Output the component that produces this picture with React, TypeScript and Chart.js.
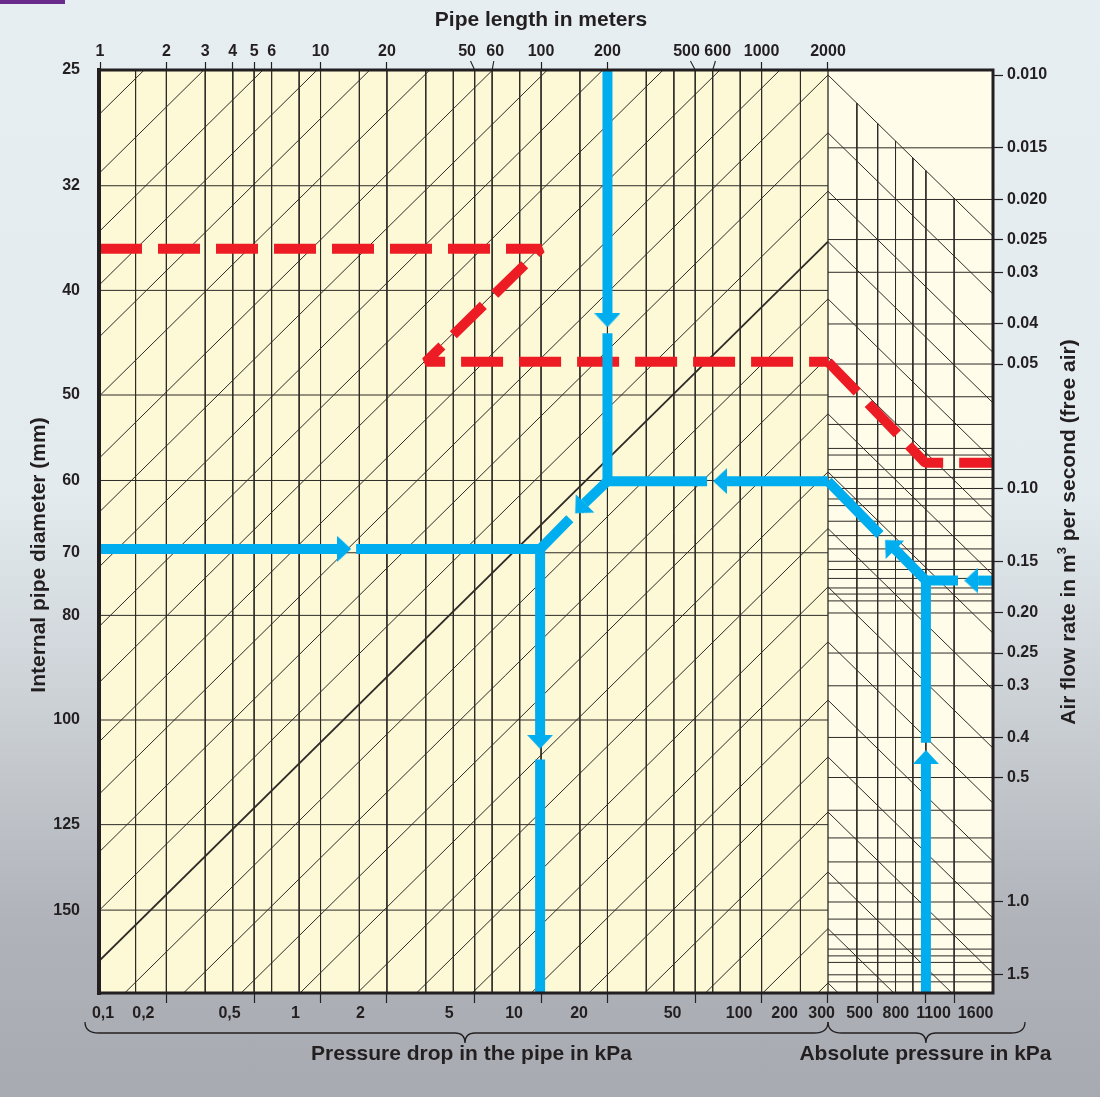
import { useEffect, useRef } from 'react';
import { Chart, registerables } from 'chart.js';

Chart.register(...registerables);

const FONT = '"Liberation Sans", Arial, Helvetica, sans-serif';
const TEXT = '#231f20';
const GRID = '#2e2b28';
const BLUE = '#00aeef';
const RED = '#ed1c24';

// ---- axis ranges (log scales) ----
const LENGTH_MIN = 1;
const LENGTH_MAX = 11200;
const DROP_MIN = 0.1;
const DROP_MAX = 1120;
const ABS_MIN = 0.0191;
const ABS_MAX = 2680;
const DIAM_MIN = 25;
const DIAM_MAX = 179;
const FLOW_MIN = 0.009725;
const FLOW_MAX = 1.66;
const LENGTH_EDGE = 2000; // right end of the pipe-length field
const ABS_EDGE = 300; // left end of the absolute-pressure field
const FLOW_EXP = 1.9; // left guide lines: L * Q^e = const
const ABS_EXP = 0.41; // right guide lines: Q / p^m = const

// ---- tick values and labels ----
const pipeLengthTicks = [1, 2, 3, 4, 5, 6, 10, 20, 50, 60, 100, 200, 500, 600, 1000, 2000];
const pipeLengthLeaderTicks = [50, 60, 500, 600];
const diameterTicks = [25, 32, 40, 50, 60, 70, 80, 100, 125, 150];
const flowTicks = [0.01, 0.015, 0.02, 0.025, 0.03, 0.04, 0.05, 0.1, 0.15, 0.2, 0.25, 0.3, 0.4, 0.5, 1.0, 1.5];
const flowTickLabels = ['0.010', '0.015', '0.020', '0.025', '0.03', '0.04', '0.05', '0.10', '0.15', '0.20', '0.25', '0.3', '0.4', '0.5', '1.0', '1.5'];
const pressureDropTickMarks = [0.2, 0.5, 1, 2, 5, 10, 20, 50, 100, 200];
const pressureDropLabels = [0.1, 0.2, 0.5, 1, 2, 5, 10, 20, 50, 100, 200, 300];
const pressureDropTexts = ['0,1', '0,2', '0,5', '1', '2', '5', '10', '20', '50', '100', '200', '300'];
const absPressureTickMarks = [580, 1100, 1600];
const absPressureLabels = [500, 800, 1100, 1600];

// ---- grid of the nomogram ----
const pipeLengthLines = [1.45, 2, 3, 4, 5, 6, 8, 10, 15, 20, 30, 40, 50, 60, 80, 100, 150, 200, 300, 400, 500, 600, 800, 1000, 1500, 2000];
const diameterLines = [32, 40, 50, 60, 70, 80, 100, 125, 150];
const flowLines = [0.015, 0.02, 0.025, 0.03, 0.04, 0.05, 0.06, 0.07, 0.08, 0.083, 0.09, 0.094, 0.1, 0.106, 0.11, 0.12, 0.13, 0.14, 0.15, 0.157, 0.165, 0.174, 0.18, 0.187, 0.2, 0.25, 0.3, 0.4, 0.5, 0.6, 0.7, 0.8, 0.9, 1.0, 1.1, 1.2, 1.3, 1.35, 1.4, 1.5, 1.56];
const absPressureLines = [440, 580, 735, 925, 1100, 1600];
// flow value where each slanted guide line meets the 2000 m / 300 kPa border
const guidePeakFlows = [0.000227, 0.000315, 0.000436, 0.000587, 0.000784, 0.00109, 0.00154, 0.00208, 0.00282, 0.00393, 0.00537, 0.00747, 0.01, 0.0138, 0.0191, 0.0253, 0.0348, 0.0481, 0.066, 0.0912, 0.125, 0.173, 0.235, 0.325, 0.446, 0.606, 0.846, 1.16, 1.57];
const heavyGuideFlow = 0.0253;

// ---- worked examples: [x value, flow] ----
const redLengthPart = [[1, 0.0263], [100, 0.0263], [30, 0.0494], [2000, 0.0494]];
const redPressurePart = [[300, 0.0494], [1090, 0.0866], [ABS_MAX, 0.0866]];

const blueLengthSegments = [
  [[200, FLOW_MIN], [200, 0.0378]],
  [[200, 0.0421], [200, 0.096], [566, 0.096]],
  [[697, 0.096], [2000, 0.096]],
  [[200, 0.096], [157.6, 0.1085]],
  [[135, 0.1183], [99, 0.14], [14.5, 0.14]],
  [[1, 0.14], [11.9, 0.14]],
];
const bluePressureSegments = [
  [[300, 0.096], [598, 0.1292]],
  [[730, 0.1403], [1100, 0.167], [1684, 0.167]],
  [[2199, 0.167], [ABS_MAX, 0.167]],
  [[1100, 0.167], [1100, 0.412]],
  [[1100, 0.464], [1100, FLOW_MAX]],
];
const blueDropSegments = [
  [[9.9, 0.14], [9.9, 0.395]],
  [[9.9, 0.452], [9.9, FLOW_MAX]],
];
// arrow heads: [x value, flow, direction in degrees (0 = up)]
const blueLengthArrows = [[200, 0.0392, 180], [648, 0.096, -90], [150.3, 0.1117, -135], [12.8, 0.14, 90]];
const bluePressureArrows = [[683, 0.1369, -45], [2010, 0.167, -90], [1100, 0.446, 0]];
const blueDropArrows = [[9.9, 0.41, 180]];

function leftGuide(q0: number) {
  const lenAt = (q: number) => LENGTH_EDGE * Math.pow(q0 / q, FLOW_EXP);
  const flowAt = (L: number) => q0 * Math.pow(LENGTH_EDGE / L, 1 / FLOW_EXP);
  const p1 = q0 >= FLOW_MIN ? [LENGTH_EDGE, q0] : [lenAt(FLOW_MIN), FLOW_MIN];
  const qLeft = flowAt(LENGTH_MIN);
  const p2 = qLeft <= FLOW_MAX ? [LENGTH_MIN, qLeft] : [lenAt(FLOW_MAX), FLOW_MAX];
  return [p1, p2];
}

function rightGuide(q0: number) {
  const pEnd = Math.min(ABS_MAX, ABS_EDGE * Math.pow(FLOW_MAX / q0, 1 / ABS_EXP));
  return [[ABS_EDGE, q0], [pEnd, q0 * Math.pow(pEnd / ABS_EDGE, ABS_EXP)]];
}

function lineSet(points: number[][], xAxisID: string, yAxisID: string, color: string, width: number, order: number, extra: any = {}) {
  return {
    data: points.map(([x, y]) => ({ x, y })),
    xAxisID,
    yAxisID,
    showLine: true,
    borderColor: color,
    borderWidth: width,
    pointRadius: 0,
    pointHoverRadius: 0,
    fill: false,
    tension: 0,
    borderCapStyle: 'butt',
    borderJoinStyle: 'miter',
    order,
    ...extra,
  };
}

function makeArrowHead() {
  const c = document.createElement('canvas');
  c.width = 26;
  c.height = 14;
  const g = c.getContext('2d')!;
  g.fillStyle = BLUE;
  g.beginPath();
  g.moveTo(13, 0);
  g.lineTo(26, 14);
  g.lineTo(0, 14);
  g.closePath();
  g.fill();
  return c;
}

function arrowSet(arrows: number[][], xAxisID: string, head: HTMLCanvasElement) {
  return arrows.map(([x, y, rot]) => ({
    data: [{ x, y }],
    xAxisID,
    yAxisID: 'yQ',
    showLine: false,
    pointStyle: head,
    pointRotation: rot,
    pointRadius: 8,
    pointHoverRadius: 8,
    order: 0,
  }));
}

function brace(ctx: CanvasRenderingContext2D, x1: number, x2: number, xc: number, yTop: number, yLine: number, yTip: number) {
  const r = 14;
  const rc = 10;
  ctx.beginPath();
  ctx.moveTo(x1, yTop);
  ctx.quadraticCurveTo(x1, yLine, x1 + r, yLine);
  ctx.lineTo(xc - rc, yLine);
  ctx.quadraticCurveTo(xc, yLine, xc, yTip);
  ctx.quadraticCurveTo(xc, yLine, xc + rc, yLine);
  ctx.lineTo(x2 - r, yLine);
  ctx.quadraticCurveTo(x2, yLine, x2, yTop);
  ctx.stroke();
}

const decorPlugin = {
  id: 'decor',
  beforeDraw(chart: any) {
    const { ctx, chartArea, scales } = chart;
    const { left, top, right, bottom } = chartArea;
    const xb = scales.xL.getPixelForValue(LENGTH_EDGE);
    ctx.save();
    ctx.fillStyle = '#fdf8d5';
    ctx.fillRect(left, top, xb - left, bottom - top);
    ctx.fillStyle = '#fffce9';
    ctx.fillRect(xb, top, right - xb, bottom - top);
    ctx.fillStyle = '#6a2c8c';
    ctx.fillRect(0, 0, 65, 4);
    ctx.restore();
  },
  afterDatasetsDraw(chart: any) {
    const { ctx, chartArea } = chart;
    const { left, top, right, bottom } = chartArea;
    ctx.save();
    ctx.strokeStyle = TEXT;
    ctx.lineCap = 'square';
    ctx.lineWidth = 3;
    ctx.beginPath();
    ctx.moveTo(left, top);
    ctx.lineTo(right, top);
    ctx.moveTo(right, top);
    ctx.lineTo(right, bottom);
    ctx.moveTo(left, bottom);
    ctx.lineTo(right, bottom);
    ctx.stroke();
    ctx.lineWidth = 4;
    ctx.beginPath();
    ctx.moveTo(left - 1, top);
    ctx.lineTo(left - 1, bottom);
    ctx.stroke();
    ctx.restore();
  },
  afterDraw(chart: any) {
    const { ctx, scales, chartArea } = chart;
    const xL = scales.xL;
    const xD = scales.xD;
    const xP = scales.xP;
    ctx.save();
    ctx.fillStyle = TEXT;
    ctx.strokeStyle = TEXT;

    // pipe-length labels with leaders
    ctx.font = `bold 16px ${FONT}`;
    ctx.textAlign = 'center';
    ctx.textBaseline = 'middle';
    const leaderOffsets: Record<number, number> = { 50: -7.6, 60: 3, 500: -8.7, 600: 5 };
    ctx.lineWidth = 1.1;
    for (const v of pipeLengthLeaderTicks) {
      const x = xL.getPixelForValue(v);
      const off = leaderOffsets[v];
      ctx.fillText(String(v), x + off, 51.7);
      ctx.beginPath();
      ctx.moveTo(x + off * 0.55, 61);
      ctx.lineTo(x, chartArea.top);
      ctx.stroke();
    }

    // pressure-drop labels
    const dropOffsets = [3, -23, -24.6, -25, -26.4, -25.6, -27, -28.4, -22.6, -22.5, -43.4, -45.2];
    pressureDropLabels.forEach((v, i) => {
      ctx.fillText(pressureDropTexts[i], xD.getPixelForValue(v) + dropOffsets[i], 1014);
    });
    const absOffsets = [-7, -6, 7.6, 21.5];
    absPressureLabels.forEach((v, i) => {
      ctx.fillText(String(v), xP.getPixelForValue(v) + absOffsets[i], 1014);
    });

    // braces
    ctx.lineWidth = 1.3;
    const xEdge = xL.getPixelForValue(LENGTH_EDGE);
    brace(ctx, chartArea.left - 15, xEdge, 465, 1022, 1033, 1043);
    brace(ctx, xEdge, 1025, xP.getPixelForValue(1100), 1022, 1033, 1043);

    // titles
    ctx.font = `bold 21px ${FONT}`;
    ctx.textBaseline = 'alphabetic';
    ctx.textAlign = 'center';
    ctx.fillText('Pipe length in meters', 541, 26);
    ctx.fillText('Pressure drop in the pipe in kPa', 471.5, 1060);
    ctx.fillText('Absolute pressure in kPa', 925.5, 1060);

    ctx.save();
    ctx.translate(37.5, 555);
    ctx.rotate(-Math.PI / 2);
    ctx.fillText('Internal pipe diameter (mm)', 0, 7.5);
    ctx.restore();

    ctx.save();
    ctx.translate(1067, 532);
    ctx.rotate(-Math.PI / 2);
    const big = `bold 21px ${FONT}`;
    const small = `bold 13px ${FONT}`;
    const a = 'Air flow rate in m';
    const b = '3';
    const c = ' per second (free air)';
    ctx.font = big;
    const wa = ctx.measureText(a).width;
    const wc = ctx.measureText(c).width;
    ctx.font = small;
    const wb = ctx.measureText(b).width;
    let x0 = -(wa + wb + wc) / 2;
    ctx.textAlign = 'left';
    ctx.font = big;
    ctx.fillText(a, x0, 7.5);
    x0 += wa;
    ctx.font = small;
    ctx.fillText(b, x0, -1);
    x0 += wb;
    ctx.font = big;
    ctx.fillText(c, x0, 7.5);
    ctx.restore();

    ctx.restore();
  },
};

const tickFont = { family: FONT, size: 16, weight: 'bold' as const };

function buildDatasets(head: HTMLCanvasElement) {
  const ds: any[] = [];
  pipeLengthLines.forEach((L) => ds.push(lineSet([[L, DIAM_MIN], [L, DIAM_MAX]], 'xL', 'yD', GRID, L === LENGTH_EDGE ? 1.3 : 1, 4)));
  diameterLines.forEach((d) => ds.push(lineSet([[LENGTH_MIN, d], [LENGTH_EDGE, d]], 'xL', 'yD', GRID, 1, 4)));
  flowLines.forEach((q) => ds.push(lineSet([[ABS_EDGE, q], [ABS_MAX, q]], 'xP', 'yQ', GRID, 1, 4)));
  absPressureLines.forEach((p) => ds.push(lineSet([[p, 0.01 * Math.pow(p / ABS_EDGE, ABS_EXP)], [p, FLOW_MAX]], 'xP', 'yQ', GRID, 1, 4)));
  guidePeakFlows.forEach((q0) => {
    ds.push(lineSet(leftGuide(q0), 'xL', 'yQ', GRID, q0 === heavyGuideFlow ? 1.8 : 1, 4));
    if (q0 >= 0.01) ds.push(lineSet(rightGuide(q0), 'xP', 'yQ', GRID, 1, 4));
  });

  ds.push(lineSet(redLengthPart, 'xL', 'yQ', RED, 10, 2, { borderDash: [42, 16], borderJoinStyle: 'bevel' }));
  ds.push(lineSet(redPressurePart, 'xP', 'yQ', RED, 10, 2, { borderDash: [42, 16], borderJoinStyle: 'bevel' }));

  blueLengthSegments.forEach((s) => ds.push(lineSet(s, 'xL', 'yQ', BLUE, 10, 1, { borderJoinStyle: 'bevel' })));
  bluePressureSegments.forEach((s) => ds.push(lineSet(s, 'xP', 'yQ', BLUE, 10, 1, { borderJoinStyle: 'bevel' })));
  blueDropSegments.forEach((s) => ds.push(lineSet(s, 'xD', 'yQ', BLUE, 10, 1)));

  ds.push(...arrowSet(blueLengthArrows, 'xL', head));
  ds.push(...arrowSet(bluePressureArrows, 'xP', head));
  ds.push(...arrowSet(blueDropArrows, 'xD', head));
  return ds;
}

export default function App() {
  const ref = useRef<HTMLCanvasElement>(null);

  useEffect(() => {
    document.body.style.margin = '0';
    const head = makeArrowHead();
    const flowLabel = new Map(flowTicks.map((v, i) => [v, flowTickLabels[i]]));
    const transparent = 'rgba(0,0,0,0)';

    const chart = new Chart(ref.current!, {
      type: 'scatter',
      data: { datasets: buildDatasets(head) },
      options: {
        responsive: false,
        animation: false,
        devicePixelRatio: 1,
        events: [],
        layout: { padding: { top: 0, left: 0, right: 0, bottom: 104 } },
        plugins: { legend: { display: false }, tooltip: { enabled: false }, title: { display: false } },
        scales: {
          xL: {
            type: 'logarithmic',
            position: 'top',
            min: LENGTH_MIN,
            max: LENGTH_MAX,
            bounds: 'data',
            afterFit: (s: any) => { s.height = 70; },
            afterBuildTicks: (s: any) => { s.ticks = pipeLengthTicks.map((value) => ({ value })); },
            ticks: {
              autoSkip: false,
              maxRotation: 0,
              minRotation: 0,
              padding: 1,
              font: tickFont,
              color: TEXT,
              callback: (v: any) => (pipeLengthLeaderTicks.includes(v) ? '' : String(v)),
            },
            grid: {
              drawOnChartArea: false,
              drawTicks: true,
              tickLength: 8,
              tickWidth: 1.2,
              tickColor: (c: any) => (c.tick && pipeLengthLeaderTicks.includes(c.tick.value) ? transparent : TEXT),
            },
            border: { display: false },
          },
          xD: {
            type: 'logarithmic',
            position: 'bottom',
            min: DROP_MIN,
            max: DROP_MAX,
            bounds: 'data',
            afterFit: (s: any) => { s.height = 0; },
            afterBuildTicks: (s: any) => { s.ticks = pressureDropTickMarks.map((value) => ({ value })); },
            ticks: { autoSkip: false, maxRotation: 0, callback: () => '' },
            grid: { drawOnChartArea: false, drawTicks: true, tickLength: 10, tickWidth: 1.2, tickColor: TEXT },
            border: { display: false },
          },
          xP: {
            type: 'logarithmic',
            position: 'bottom',
            min: ABS_MIN,
            max: ABS_MAX,
            bounds: 'data',
            afterFit: (s: any) => { s.height = 0; },
            afterBuildTicks: (s: any) => { s.ticks = absPressureTickMarks.map((value) => ({ value })); },
            ticks: { autoSkip: false, maxRotation: 0, callback: () => '' },
            grid: { drawOnChartArea: false, drawTicks: true, tickLength: 10, tickWidth: 1.2, tickColor: TEXT },
            border: { display: false },
          },
          yD: {
            type: 'logarithmic',
            position: 'left',
            reverse: true,
            min: DIAM_MIN,
            max: DIAM_MAX,
            bounds: 'data',
            afterFit: (s: any) => { s.width = 100; },
            afterBuildTicks: (s: any) => { s.ticks = diameterTicks.map((value) => ({ value })); },
            ticks: { autoSkip: false, padding: 20, font: tickFont, color: TEXT, callback: (v: any) => String(v) },
            grid: { drawOnChartArea: false, drawTicks: false },
            border: { display: false },
          },
          yQ: {
            type: 'logarithmic',
            position: 'right',
            reverse: true,
            min: FLOW_MIN,
            max: FLOW_MAX,
            bounds: 'data',
            afterFit: (s: any) => { s.width = 107; },
            afterBuildTicks: (s: any) => { s.ticks = flowTicks.map((value) => ({ value })); },
            ticks: { autoSkip: false, padding: 4, font: tickFont, color: TEXT, callback: (v: any) => flowLabel.get(v) ?? '' },
            grid: { drawOnChartArea: false, drawTicks: true, tickLength: 10, tickWidth: 1.2, tickColor: TEXT },
            border: { display: false },
          },
        },
      } as any,
      plugins: [decorPlugin],
    } as any);
    return () => chart.destroy();
  }, []);

  return (
    <div
      style={{
        position: 'relative',
        width: 1100,
        height: 1097,
        background: 'linear-gradient(180deg, #e6eef2 0%, #e3ebef 45%, #ccd1d6 64%, #b0b4ba 84%, #a7abb1 100%)',
      }}
    >
      <canvas ref={ref} width={1100} height={1097} style={{ display: 'block' }} />
    </div>
  );
}
